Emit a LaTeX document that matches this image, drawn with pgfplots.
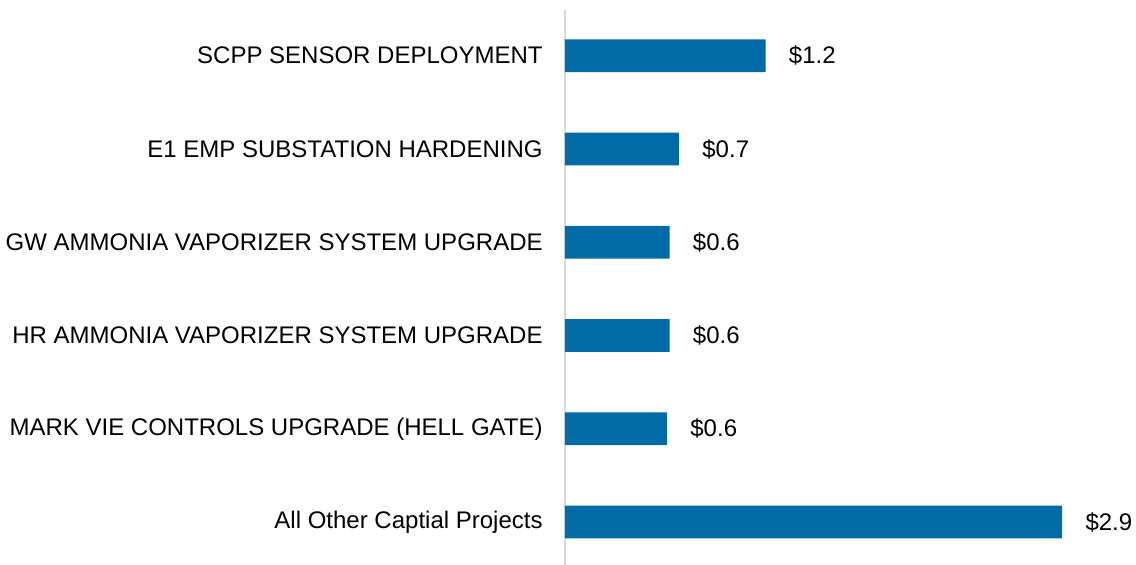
\documentclass[border=0pt]{standalone}
\usepackage{fontspec}
\setmainfont{Liberation Sans}
\usepackage{pgfplots}
\pgfplotsset{compat=1.18}
\definecolor{barblue}{HTML}{006BA6}
\definecolor{axisgray}{HTML}{D9D9D9}
\begin{document}
\begin{tikzpicture}
\useasboundingbox (-282.5pt,0pt) rectangle (285.5pt,282.5pt);
\begin{axis}[
    at={(0pt,0pt)}, anchor=south west,
    xbar,
    scale only axis,
    width=274.3pt,
    height=277.5pt,
    xmin=0, xmax=3.2,
    ymin=-0.46, ymax=5.49,
    bar width=16.4pt,
    axis x line=none,
    axis y line*=left,
    y axis line style={draw=axisgray, line width=0.8pt, -},
    ytick={0,1,2,3,4,5},
    yticklabels={All Other Captial Projects, MARK VIE CONTROLS UPGRADE (HELL GATE), HR AMMONIA VAPORIZER SYSTEM UPGRADE, GW AMMONIA VAPORIZER SYSTEM UPGRADE, E1 EMP SUBSTATION HARDENING, SCPP SENSOR DEPLOYMENT},
    major tick length=0pt,
    yticklabel style={font=\fontsize{12}{14}\selectfont, anchor=east, inner sep=0pt, xshift=-11pt},
    point meta=explicit symbolic,
    nodes near coords={\$\pgfplotspointmeta},
    nodes near coords style={font=\fontsize{12}{14}\selectfont, anchor=west, inner sep=0pt, xshift=11.5pt},
]
\addplot[fill=barblue, draw=none] coordinates {
    (2.90,0) [2.9]
    (0.595,1) [0.6]
    (0.61,2) [0.6]
    (0.61,3) [0.6]
    (0.665,4) [0.7]
    (1.17,5) [1.2]
};
\end{axis}
\end{tikzpicture}
\end{document}
